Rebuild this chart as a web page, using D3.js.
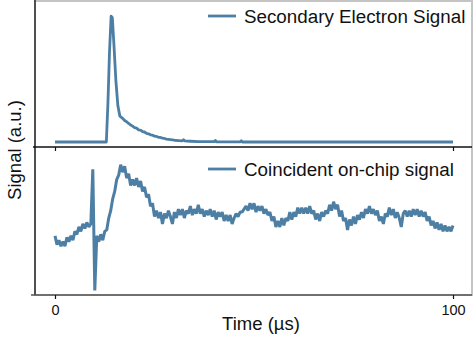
<!DOCTYPE html>
<html><head><meta charset="utf-8">
<script src="https://cdn.jsdelivr.net/npm/d3@7"></script>
<style>body{margin:0;background:#fff}svg{display:block;font-family:"Liberation Sans",Arial,sans-serif}</style>
</head><body><svg id="c" width="474" height="356"></svg>
<script>
const xTicks = [0, 100];
const xLabel = "Time (µs)";
const yLabel = "Signal (a.u.)";
const seriesNames = ["Secondary Electron Signal", "Coincident on-chip signal"];
const color = "#4d7fa5";

// Top panel: [time µs, signal a.u.]
const topSeries = [
 [0,0.034],[4,0.034],[8,0.034],[12.9,0.034],[13.3,0.30],[13.7,0.65],[14.1,0.89],[14.4,0.88],[14.8,0.70],
 [15.3,0.45],[15.8,0.28],[16.3,0.21],[17,0.195],[17.5,0.18],[18,0.172],[18.5,0.16],[19,0.15],[19.5,0.142],
 [20,0.132],[20.5,0.128],[21,0.117],[21.5,0.114],[22,0.104],[22.5,0.102],[23,0.093],[23.5,0.09],[24,0.083],
 [24.5,0.08],[25,0.074],[25.5,0.072],[26,0.066],[26.5,0.065],[27,0.06],[27.5,0.058],[28,0.054],[29,0.05],
 [30,0.046],[31,0.044],[32,0.042],[32.3,0.05],[32.6,0.041],[34,0.039],[36,0.037],[38,0.036],[40,0.036],
 [40.3,0.044],[40.6,0.035],[44,0.035],[46.5,0.035],[46.8,0.042],[47.1,0.034],[60,0.034],[80,0.034],[100,0.034]
];

// Bottom panel signal sampled every 0.5 µs from t = 0
const bottomStep = 0.5;
const bottomValues = [
 0.40,0.34,0.37,0.33,0.36,0.33,0.39,0.36,0.40,0.37,
 0.43,0.41,0.46,0.43,0.48,0.45,0.49,0.46,0.48,0.85,
 0.03,0.40,0.36,0.41,0.37,0.43,0.44,0.52,0.57,0.65,
 0.70,0.78,0.81,0.88,0.83,0.87,0.79,0.82,0.74,0.78,
 0.74,0.79,0.73,0.77,0.70,0.73,0.66,0.68,0.60,0.62,
 0.53,0.57,0.52,0.56,0.48,0.55,0.52,0.57,0.53,0.48,
 0.56,0.52,0.58,0.54,0.58,0.52,0.57,0.55,0.60,0.54,
 0.58,0.55,0.61,0.55,0.58,0.53,0.57,0.54,0.58,0.53,
 0.57,0.51,0.56,0.53,0.56,0.50,0.54,0.50,0.54,0.48,
 0.52,0.55,0.53,0.56,0.56,0.58,0.60,0.57,0.62,0.58,
 0.62,0.56,0.60,0.57,0.60,0.55,0.58,0.54,0.56,0.50,
 0.53,0.46,0.50,0.46,0.52,0.47,0.52,0.50,0.56,0.51,
 0.56,0.53,0.59,0.55,0.59,0.55,0.59,0.55,0.60,0.55,
 0.57,0.51,0.55,0.50,0.56,0.53,0.57,0.55,0.61,0.57,
 0.63,0.58,0.61,0.53,0.57,0.50,0.52,0.44,0.51,0.47,
 0.53,0.48,0.54,0.51,0.56,0.52,0.58,0.55,0.60,0.55,
 0.58,0.54,0.57,0.50,0.53,0.48,0.55,0.53,0.59,0.54,
 0.58,0.52,0.56,0.52,0.46,0.55,0.57,0.53,0.57,0.53,
 0.58,0.54,0.58,0.53,0.57,0.53,0.56,0.50,0.53,0.47,
 0.50,0.45,0.49,0.44,0.48,0.43,0.47,0.43,0.46,0.43,
 0.47
];
const bottomSeries = bottomValues.map((v, i) => [i * bottomStep, v]);

const svg = d3.select("#c");
const L = 35, R = 472, T = 0, M = 147, B = 295;
const font = '"Liberation Sans",Arial,sans-serif';

const x = d3.scaleLinear().domain([0, 100]).range([55, 453]);
const yTop = d3.scaleLinear().domain([0, 1]).range([M, T]);
const yBot = d3.scaleLinear().domain([0, 1]).range([B, M]);

// frame
svg.append("rect").attr("x", L).attr("y", T + 1).attr("width", R - L).attr("height", B - T - 1)
  .attr("fill", "none").attr("stroke", "#c4c4c4").attr("stroke-width", 2);

svg.append("path").datum(topSeries)
  .attr("d", d3.line().x(d => x(d[0])).y(d => yTop(d[1])))
  .attr("fill", "none").attr("stroke", color).attr("stroke-width", 2.8).attr("stroke-linejoin", "round");
svg.append("path").datum(bottomSeries)
  .attr("d", d3.line().x(d => x(d[0])).y(d => yBot(d[1])))
  .attr("fill", "none").attr("stroke", color).attr("stroke-width", 3).attr("stroke-linejoin", "bevel");

// spines
svg.append("line").attr("x1", L).attr("x2", L).attr("y1", T).attr("y2", B).attr("stroke", "#111").attr("stroke-width", 1.3);
svg.append("line").attr("x1", L - 2).attr("x2", R).attr("y1", M).attr("y2", M).attr("stroke", "#111").attr("stroke-width", 1.3);
svg.append("line").attr("x1", L - 4).attr("x2", R).attr("y1", B).attr("y2", B).attr("stroke", "#555").attr("stroke-width", 1.5);

// x axes (ticks under each panel)
const axTop = svg.append("g").attr("transform", `translate(0,${M})`)
  .call(d3.axisBottom(x).tickValues(xTicks).tickSize(4).tickFormat(""));
axTop.select(".domain").remove();
const axBot = svg.append("g").attr("transform", `translate(0,${B})`)
  .call(d3.axisBottom(x).tickValues(xTicks).tickSize(4).tickPadding(6).tickFormat(d3.format("d")));
axBot.select(".domain").remove();
svg.selectAll(".tick line").attr("stroke", "#111").attr("stroke-width", 1.2);
axBot.selectAll("text").attr("font-size", 14.5).attr("fill", "#111").attr("font-family", font);

// legends
const legends = [{name: seriesNames[0], y: 16}, {name: seriesNames[1], y: 169}];
legends.forEach(l => {
  svg.append("line").attr("x1", 208).attr("x2", 236).attr("y1", l.y).attr("y2", l.y)
    .attr("stroke", color).attr("stroke-width", 2.8);
  svg.append("text").attr("x", 244).attr("y", l.y + 7).attr("font-size", 18.8).attr("fill", "#111").text(l.name);
});

// axis labels
svg.append("text").attr("x", 261).attr("y", 330).attr("text-anchor", "middle")
  .attr("font-size", 18.5).attr("fill", "#111").text(xLabel);
svg.append("text").attr("transform", "translate(21,150) rotate(-90)").attr("text-anchor", "middle")
  .attr("font-size", 18.5).attr("fill", "#111").text(yLabel);
</script></body></html>
